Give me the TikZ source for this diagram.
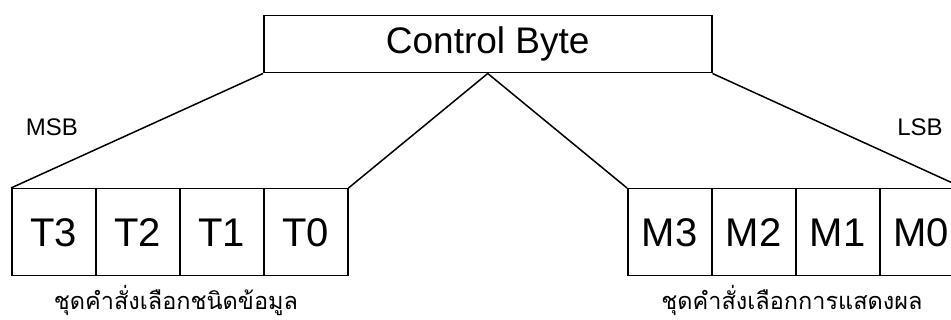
\documentclass[tikz,border=0pt]{standalone}
\usepackage{fontspec}
\setmainfont{Liberation Sans}
\newfontfamily\thaifont[Script=Thai]{Loma}
\begin{document}
\begin{tikzpicture}[x=1pt,y=-1pt,
  cell/.style={draw,line width=1.5pt,minimum width=84pt,minimum height=87pt,inner sep=0pt,font=\fontsize{40}{40}\selectfont,anchor=north west},
  ctl/.style={draw,line width=1.5pt,minimum width=448pt,minimum height=57pt,inner sep=0pt,font=\fontsize{37}{37}\selectfont,anchor=north west},
  lbl/.style={font=\fontsize{24}{24}\selectfont},
  thai/.style={font=\thaifont\fontsize{23.5}{23.5}\selectfont,inner sep=0pt},
  conn/.style={line width=1.5pt}]
\useasboundingbox (0,0) rectangle (951,320);
\node[ctl] (cb) at (263,15) {Control Byte};
\node[cell] (t3) at (11,188) {T3};
\node[cell] (t2) at (95,188) {T2};
\node[cell] (t1) at (179,188) {T1};
\node[cell] (t0) at (263,188) {T0};
\node[cell] (m3) at (627,188) {M3};
\node[cell] (m2) at (711,188) {M2};
\node[cell] (m1) at (795,188) {M1};
\node[cell,minimum width=83pt] (m0) at (879,188) {M0};
\draw[conn] (cb.south west) -- (t3.north west);
\draw[conn] (cb.south) -- (t0.north east);
\draw[conn] (cb.south) -- (m3.north west);
\draw[conn] (cb.south east) -- (m0.north east);
\node[lbl] (msb) at (52,127) {MSB};
\node[lbl] (lsb) at (920,127) {LSB};
\node[thai] (tl) at (176,300) {ชุดคำสั่งเลือกชนิดข้อมูล};
\node[thai] (tr) at (792,300) {ชุดคำสั่งเลือกการแสดงผล};
\end{tikzpicture}
\end{document}
